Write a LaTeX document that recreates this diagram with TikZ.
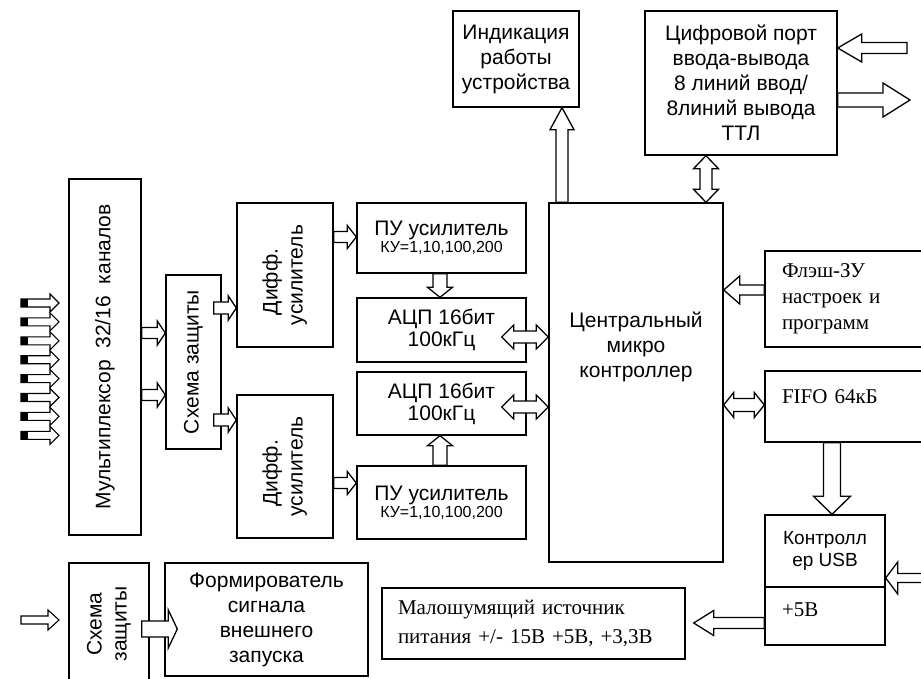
\documentclass[tikz,border=0pt]{standalone}
\usepackage{fontspec}
\setmainfont{Liberation Serif}
\setsansfont{Liberation Sans}
\usepackage{graphicx}
\usetikzlibrary{calc}

\tikzset{
  blockbox/.style={draw, line width=1.4pt, inner sep=0pt, align=center,
    font=\sffamily\fontsize{21}{25}\selectfont},
  serifbox/.style={blockbox, font=\rmfamily\fontsize{21}{26}\selectfont},
  % hollow arrow: shaft half-width, head half-width, head length
  blk/.style n args={3}{draw, fill=white, line width=1.3pt,
    to path={let \p1=(\tikztostart), \p2=(\tikztotarget),
      \n1={veclen(\x2-\x1,\y2-\y1)}, \n2={(\x2-\x1)/\n1}, \n3={(\y2-\y1)/\n1} in
      ({\x1-#1*\n3},{\y1+#1*\n2})
      -- ({\x1+(\n1-#3)*\n2-#1*\n3},{\y1+(\n1-#3)*\n3+#1*\n2})
      -- ({\x1+(\n1-#3)*\n2-#2*\n3},{\y1+(\n1-#3)*\n3+#2*\n2})
      -- (\p2)
      -- ({\x1+(\n1-#3)*\n2+#2*\n3},{\y1+(\n1-#3)*\n3-#2*\n2})
      -- ({\x1+(\n1-#3)*\n2+#1*\n3},{\y1+(\n1-#3)*\n3-#1*\n2})
      -- ({\x1+#1*\n3},{\y1-#1*\n2}) -- cycle}},
  % same with a head on both ends
  dblk/.style n args={3}{draw, fill=white, line width=1.3pt,
    to path={let \p1=(\tikztostart), \p2=(\tikztotarget),
      \n1={veclen(\x2-\x1,\y2-\y1)}, \n2={(\x2-\x1)/\n1}, \n3={(\y2-\y1)/\n1} in
      (\p1)
      -- ({\x1+#3*\n2-#2*\n3},{\y1+#3*\n3+#2*\n2})
      -- ({\x1+#3*\n2-#1*\n3},{\y1+#3*\n3+#1*\n2})
      -- ({\x1+(\n1-#3)*\n2-#1*\n3},{\y1+(\n1-#3)*\n3+#1*\n2})
      -- ({\x1+(\n1-#3)*\n2-#2*\n3},{\y1+(\n1-#3)*\n3+#2*\n2})
      -- (\p2)
      -- ({\x1+(\n1-#3)*\n2+#2*\n3},{\y1+(\n1-#3)*\n3-#2*\n2})
      -- ({\x1+(\n1-#3)*\n2+#1*\n3},{\y1+(\n1-#3)*\n3-#1*\n2})
      -- ({\x1+#3*\n2+#1*\n3},{\y1+#3*\n3-#1*\n2})
      -- ({\x1+#3*\n2+#2*\n3},{\y1+#3*\n3-#2*\n2})
      -- cycle}}
}

\begin{document}
\begin{tikzpicture}[x=1pt,y=-1pt]
\useasboundingbox (0,0) rectangle (921,679);

% analog inputs
\node[blockbox, minimum width=72pt, minimum height=356pt] (mux) at (105,357)
  {\rotatebox{90}{Мультиплексор\ \ 32/16\ \ каналов}};
\node[blockbox, minimum width=55pt, minimum height=174pt] (prot) at (193.5,362)
  {\rotatebox{90}{Схема защиты}};
\node[blockbox, minimum width=96pt, minimum height=144pt] (diffA) at (285,275)
  {\rotatebox{90}{\begin{tabular}{@{}l@{}}\hspace{10pt}Дифф.\\усилитель\end{tabular}}};
\node[blockbox, minimum width=96pt, minimum height=143pt] (diffB) at (285,466.5)
  {\rotatebox{90}{\begin{tabular}{@{}l@{}}\hspace{10pt}Дифф.\\усилитель\end{tabular}}};
\node[blockbox, minimum width=169pt, minimum height=70pt] (puA) at (441.5,238)
  {ПУ усилитель\\[-8pt]{\fontsize{16}{18}\selectfont КУ=1,10,100,200}};
\node[blockbox, minimum width=169pt, minimum height=64pt] (adcA) at (441.5,330)
  {АЦП 16бит\\[-3pt]100кГц};
\node[blockbox, minimum width=169pt, minimum height=63pt] (adcB) at (441.5,403.5)
  {АЦП 16бит\\[-3pt]100кГц};
\node[blockbox, minimum width=169pt, minimum height=73pt] (puB) at (441.5,502.5)
  {ПУ усилитель\\[-8pt]{\fontsize{16}{18}\selectfont КУ=1,10,100,200}};

% controller and periphery
\node[blockbox, minimum width=174pt, minimum height=359pt] (mcu) at (636,382.5) {};
\node[font=\sffamily\fontsize{21}{25}\selectfont, align=center] (mcu-text) at (636,347)
  {Центральный\\микро\\контроллер};
\node[blockbox, minimum width=126pt, minimum height=96pt] (ind) at (516,59)
  {Индикация\\работы\\устройства};
\node[blockbox, minimum width=192pt, minimum height=144pt] (port) at (741,83)
  {Цифровой порт\\ввода-вывода\\8 линий ввод/\\8линий вывода\\ТТЛ};
\node[serifbox, minimum width=160pt, minimum height=96pt, text width=126pt, align=left] (flash) at (845,299)
  {Флэш-ЗУ\\настроек и\\программ};
\node[serifbox, minimum width=160pt, minimum height=71pt, text width=126pt, align=left, text depth=20pt] (fifo) at (845,406.5)
  {FIFO 64кБ};
\node[blockbox, minimum width=120pt, minimum height=72pt, font=\sffamily\fontsize{19}{22}\selectfont] (usb) at (825,551)
  {Контролл\\ер USB};
\node[serifbox, minimum width=120pt, minimum height=58pt, text width=86pt, align=left, text depth=12pt] (pw5) at (825,616)
  {+5В};
\node[serifbox, minimum width=303pt, minimum height=71pt, text width=271pt, align=left, font=\rmfamily\fontsize{21}{29}\selectfont] (power) at (533.5,623.5)
  {Малошумящий источник\\питания +/- 15В +5В, +3,3В};

% trigger
\node[blockbox, minimum width=80pt, minimum height=122pt] (prot2) at (109,624)
  {\rotatebox{90}{\begin{tabular}{@{}c@{}}Схема\\защиты\end{tabular}}};
\node[blockbox, minimum width=203pt, minimum height=113pt] (form) at (266.5,619.5)
  {Формирователь\\сигнала\\внешнего\\запуска};

% input channels
\foreach \k in {0,...,7} {
  \coordinate (src\k) at (21,{303+18.9*\k});
  \coordinate (dst\k) at (59,{303+18.9*\k});
  \draw[blk={4}{9}{9}, line width=1.1pt] (src\k) to (dst\k);
  \fill (21,{299+18.9*\k}) rectangle (28,{307+18.9*\k});
}

% signal path
\draw[blk={5.5}{12}{8}] (mux.east |- 0,333) to (prot.west |- 0,333);
\draw[blk={5.5}{12}{8}] (mux.east |- 0,395) to (prot.west |- 0,395);
\draw[blk={6}{12}{8}] ($(prot.east)+(-8,-54)$) to (diffA.west |- 0,308);
\draw[blk={6}{12}{8}] ($(prot.east)+(-8,58)$) to (diffB.west |- 0,420);
\draw[blk={5.5}{11.5}{9}] (diffA.east |- 0,237) to (puA.west |- 0,237);
\draw[blk={5.5}{11.5}{9}] (diffB.east |- 0,483) to (puB.west |- 0,483);
\draw[blk={7}{12.5}{10}] (puA.south -| 440,0) to (adcA.north -| 440,0);
\draw[blk={7}{12.5}{10}] (puB.north -| 440,0) to (adcB.south -| 440,0);
\draw[dblk={6}{12}{12}] ($(adcA.east)+(-25,7)$) to (mcu.west |- 0,337);
\draw[dblk={6}{12}{12}] ($(adcB.east)+(-25,3.5)$) to (mcu.west |- 0,407);

% controller links
\draw[blk={6}{12}{22}] (mcu.north -| 562,0) to (ind.south -| 562,0);
\draw[dblk={6}{12.5}{13}] (port.south -| 706,0) to (mcu.north -| 706,0);
\coordinate (portin) at (907,48);
\coordinate (portout) at (910,100);
\draw[blk={5.5}{14}{24}] (portin) to (port.east |- portin);
\draw[blk={7}{17}{27}] (port.east |- portout) to (portout);
\draw[blk={5}{14}{16}] (flash.west |- 0,290) to (mcu.east |- 0,290);
\draw[dblk={6.5}{12.5}{10}] (mcu.east |- 0,405) to (fifo.west |- 0,405);
\draw[blk={8.5}{18.5}{18}] (fifo.south -| 832,0) to (usb.north -| 832,0);
\coordinate (usbin) at (925,578);
\draw[blk={4.5}{16}{12}] (usbin) to (usb.east |- usbin);
\draw[blk={5.5}{12.5}{20}] (pw5.west |- 0,623) to ($(power.east)+(8,-0.5)$);

% trigger input
\coordinate (trigin) at (21,620);
\coordinate (trigend) at (59,620);
\draw[blk={4}{10}{11}, line width=1.1pt] (trigin) to (trigend);
\draw[blk={8}{19}{9}] ($(prot2.east)+(-8,5)$) to ($(form.west)+(13,9.5)$);
\end{tikzpicture}
\end{document}
